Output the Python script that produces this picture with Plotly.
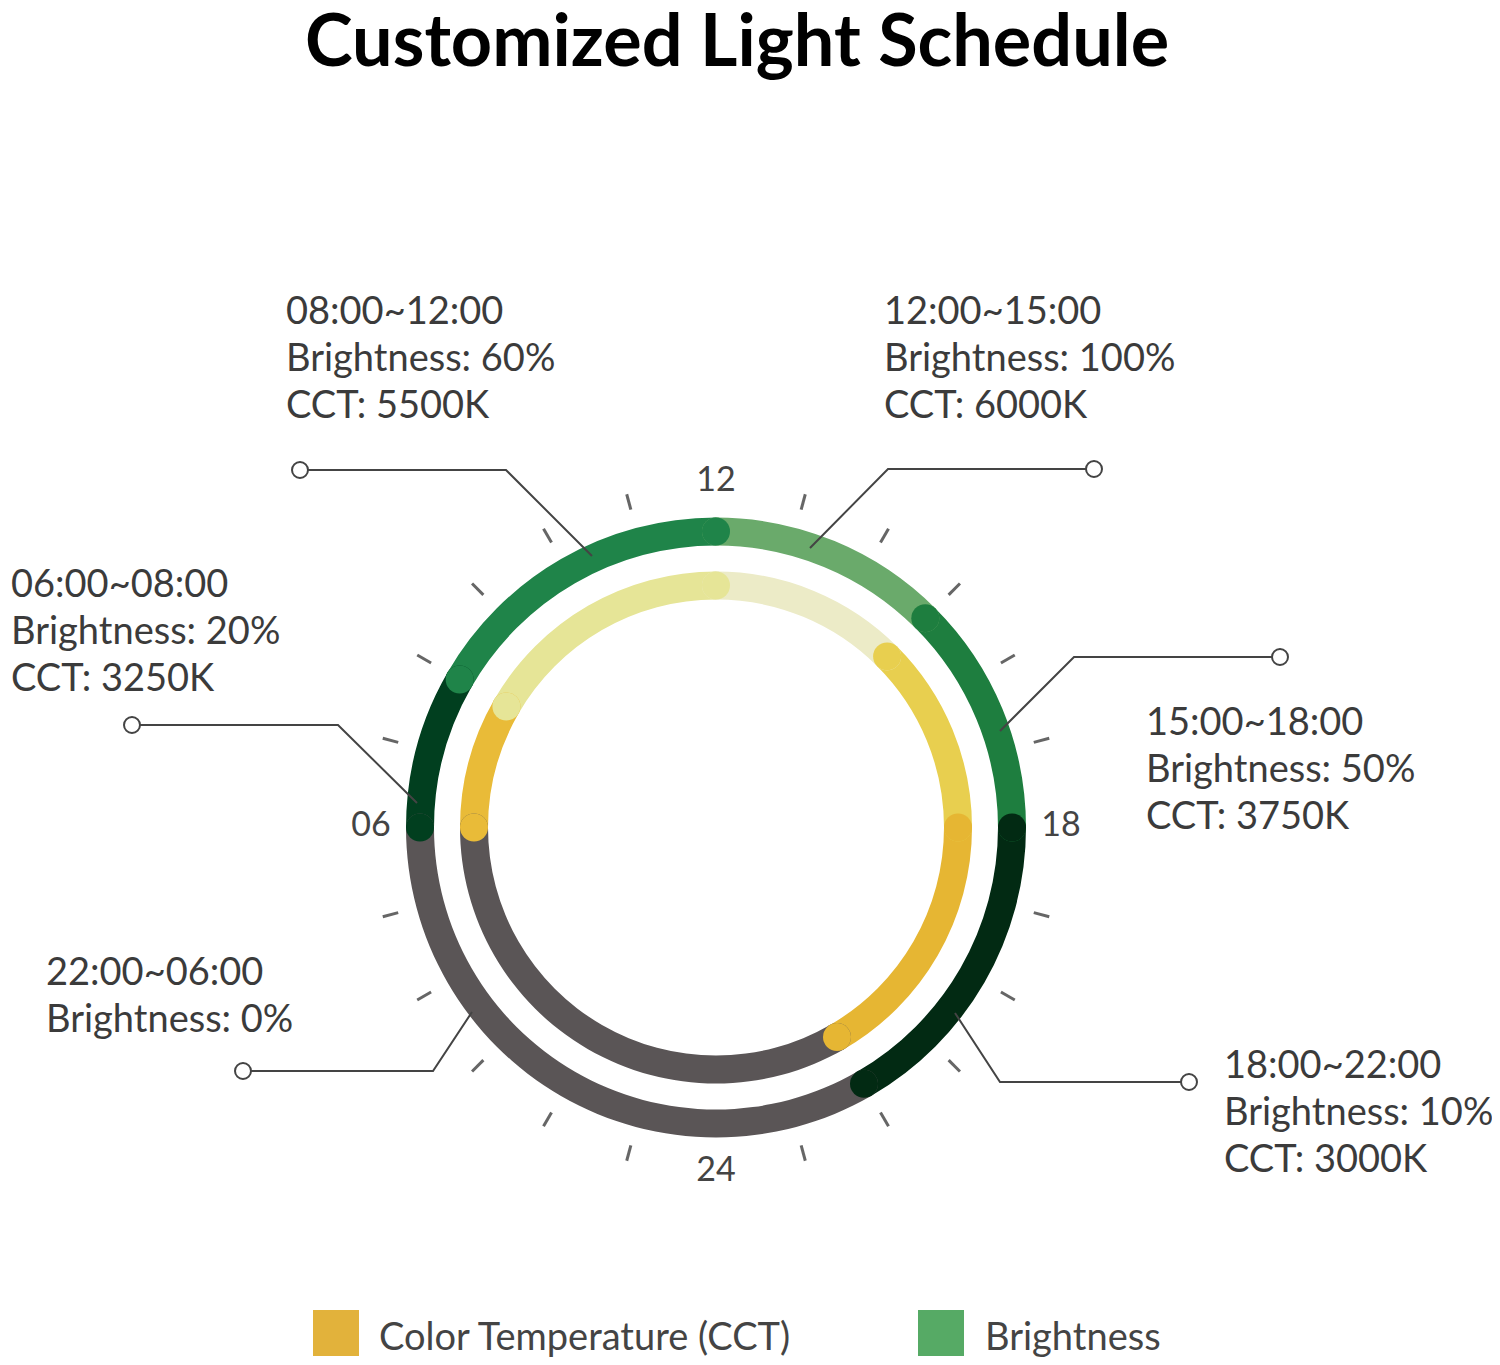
import plotly.graph_objects as go

# light schedule, segments in clock order (hours on a 24h dial)
seg_start = [22, 6, 8, 12, 15, 18]
seg_end = [6, 8, 12, 15, 18, 22]
brightness = [0, 20, 60, 100, 50, 10]
cct = [None, 3250, 5500, 6000, 3750, 3000]

bright_colors = ["#5a5556", "#013f1f", "#1f8449", "#6aaa6b", "#1e7e3f", "#022a13"]
cct_colors = ["#5a5556", "#e9bb38", "#e6e597", "#ecebc7", "#e8cf4f", "#e6b633"]

tick_hours = [1, 2, 3, 4, 5, 7, 8, 9, 10, 11, 13, 14, 15, 16, 17, 19, 20, 21, 22, 23]
label_hours = [12, 18, 24, 6]
label_text = ["12", "18", "24", "06"]

legend_names = ["Color Temperature (CCT)", "Brightness"]
legend_colors = ["#e2b23b", "#56aa65"]

# segments drawn later sit on top of the previous rounded ends
draw_order = [0, 3, 4, 5, 1, 2]

W, H = 1500, 1365
OFF = 8  # page body margin
CX, CY, R = 716 - OFF, 827.5 - OFF, 380
OUTER_R, INNER_R, RING_W = 296, 242, 28
FONT = "Lato"
LINE_GAP = 47


def deg(h):
    return h * 15


def span(i):
    return (seg_end[i] - seg_start[i]) % 24


fig = go.Figure()

for ring_r, colors in [(OUTER_R, bright_colors), (INNER_R, cct_colors)]:
    fig.add_trace(go.Barpolar(
        r=[RING_W] * len(draw_order),
        base=[ring_r - RING_W / 2] * len(draw_order),
        theta=[deg(seg_start[i] + span(i) / 2) for i in draw_order],
        width=[deg(span(i)) for i in draw_order],
        marker=dict(color=[colors[i] for i in draw_order], line=dict(width=0)),
        hoverinfo="skip", showlegend=False,
    ))

# rounded ends of each segment
for ring_r, colors in [(OUTER_R, bright_colors), (INNER_R, cct_colors)]:
    th, cols = [], []
    for i in draw_order:
        th += [deg(seg_start[i]), deg(seg_end[i])]
        cols += [colors[i], colors[i]]
    fig.add_trace(go.Scatterpolar(
        r=[ring_r] * len(th), theta=th, mode="markers",
        marker=dict(size=RING_W, color=cols, line=dict(width=0)),
        hoverinfo="skip", showlegend=False,
    ))

# hour ticks
tr, tt = [], []
for h in tick_hours:
    tr += [329, 345, None]
    tt += [deg(h), deg(h), None]
fig.add_trace(go.Scatterpolar(
    r=tr, theta=tt, mode="lines", line=dict(color="#666666", width=3),
    hoverinfo="skip", showlegend=False,
))

fig.add_trace(go.Scatterpolar(
    r=[345] * len(label_hours), theta=[deg(h) for h in label_hours],
    mode="text", text=label_text, textposition="middle center",
    textfont=dict(family=FONT, size=34, color="#444444"),
    hoverinfo="skip", showlegend=False,
))

# callouts: first text line, end circle, elbow, tip on the ring (page pixels)
callouts = [
    dict(text=(44, 970), dot=(243, 1071), elbow=(433, 1071), tip=(472, 1012)),
    dict(text=(9, 582), dot=(132, 725), elbow=(338, 725), tip=(417, 803)),
    dict(text=(284, 309), dot=(300, 470), elbow=(506, 470), tip=(592, 556)),
    dict(text=(882, 309), dot=(1094, 469), elbow=(888, 469), tip=(810, 548)),
    dict(text=(1144, 720), dot=(1280, 657), elbow=(1074, 657), tip=(1000, 731)),
    dict(text=(1222, 1063), dot=(1189, 1082), elbow=(1000, 1082), tip=(955, 1013)),
]

shapes = []
annotations = []
for i, c in enumerate(callouts):
    lines = [f"{seg_start[i]:02d}:00~{seg_end[i]:02d}:00", f"Brightness: {brightness[i]}%"]
    if cct[i] is not None:
        lines.append(f"CCT: {cct[i]}K")
    for k, line in enumerate(lines):
        annotations.append(dict(
            x=c["text"][0], y=c["text"][1] + k * LINE_GAP, xref="x", yref="y",
            xanchor="left", yanchor="middle", align="left", showarrow=False,
            text=line, font=dict(family=FONT, size=38, color="#3b3b3b"),
        ))
    shapes.append(dict(
        type="path", xref="x", yref="y", layer="above",
        path=f"M {c['dot'][0]} {c['dot'][1]} L {c['elbow'][0]} {c['elbow'][1]} L {c['tip'][0]} {c['tip'][1]}",
        line=dict(color="#444444", width=2),
    ))
for c in callouts:
    x, y = c["dot"]
    shapes.append(dict(
        type="circle", xref="x", yref="y", layer="above",
        x0=x - 8, x1=x + 8, y0=y - 8, y1=y + 8,
        fillcolor="white", line=dict(color="#444444", width=2),
    ))

# legend
fig.add_trace(go.Scatter(
    x=[336, 941], y=[1333, 1333], mode="markers",
    marker=dict(symbol="square", size=46, color=legend_colors, line=dict(width=0)),
    hoverinfo="skip", showlegend=False,
))
for x, name in zip([377, 983], legend_names):
    annotations.append(dict(
        x=x, y=1335, xref="x", yref="y", xanchor="left", yanchor="middle",
        showarrow=False, text=name,
        font=dict(family=FONT, size=38, color="#444444"),
    ))

annotations.append(dict(
    x=737, y=38, xref="x", yref="y", xanchor="center", yanchor="middle",
    showarrow=False, text="Customized Light Schedule",
    font=dict(family=FONT, size=72, color="#000000", weight=700),
))

fig.update_layout(
    width=W, height=H,
    margin=dict(l=0, r=0, t=0, b=0),
    paper_bgcolor="white", plot_bgcolor="rgba(0,0,0,0)",
    xaxis=dict(range=[OFF, W + OFF], visible=False, fixedrange=True, domain=[0, 1]),
    yaxis=dict(range=[H + OFF, OFF], visible=False, fixedrange=True, domain=[0, 1]),
    polar=dict(
        domain=dict(x=[(CX - R) / W, (CX + R) / W], y=[(H - CY - R) / H, (H - CY + R) / H]),
        radialaxis=dict(range=[0, R], visible=False),
        angularaxis=dict(visible=False, rotation=270, direction="clockwise"),
        bgcolor="rgba(0,0,0,0)",
    ),
    shapes=shapes,
    annotations=annotations,
    showlegend=False,
)

fig.write_html("out.html")
